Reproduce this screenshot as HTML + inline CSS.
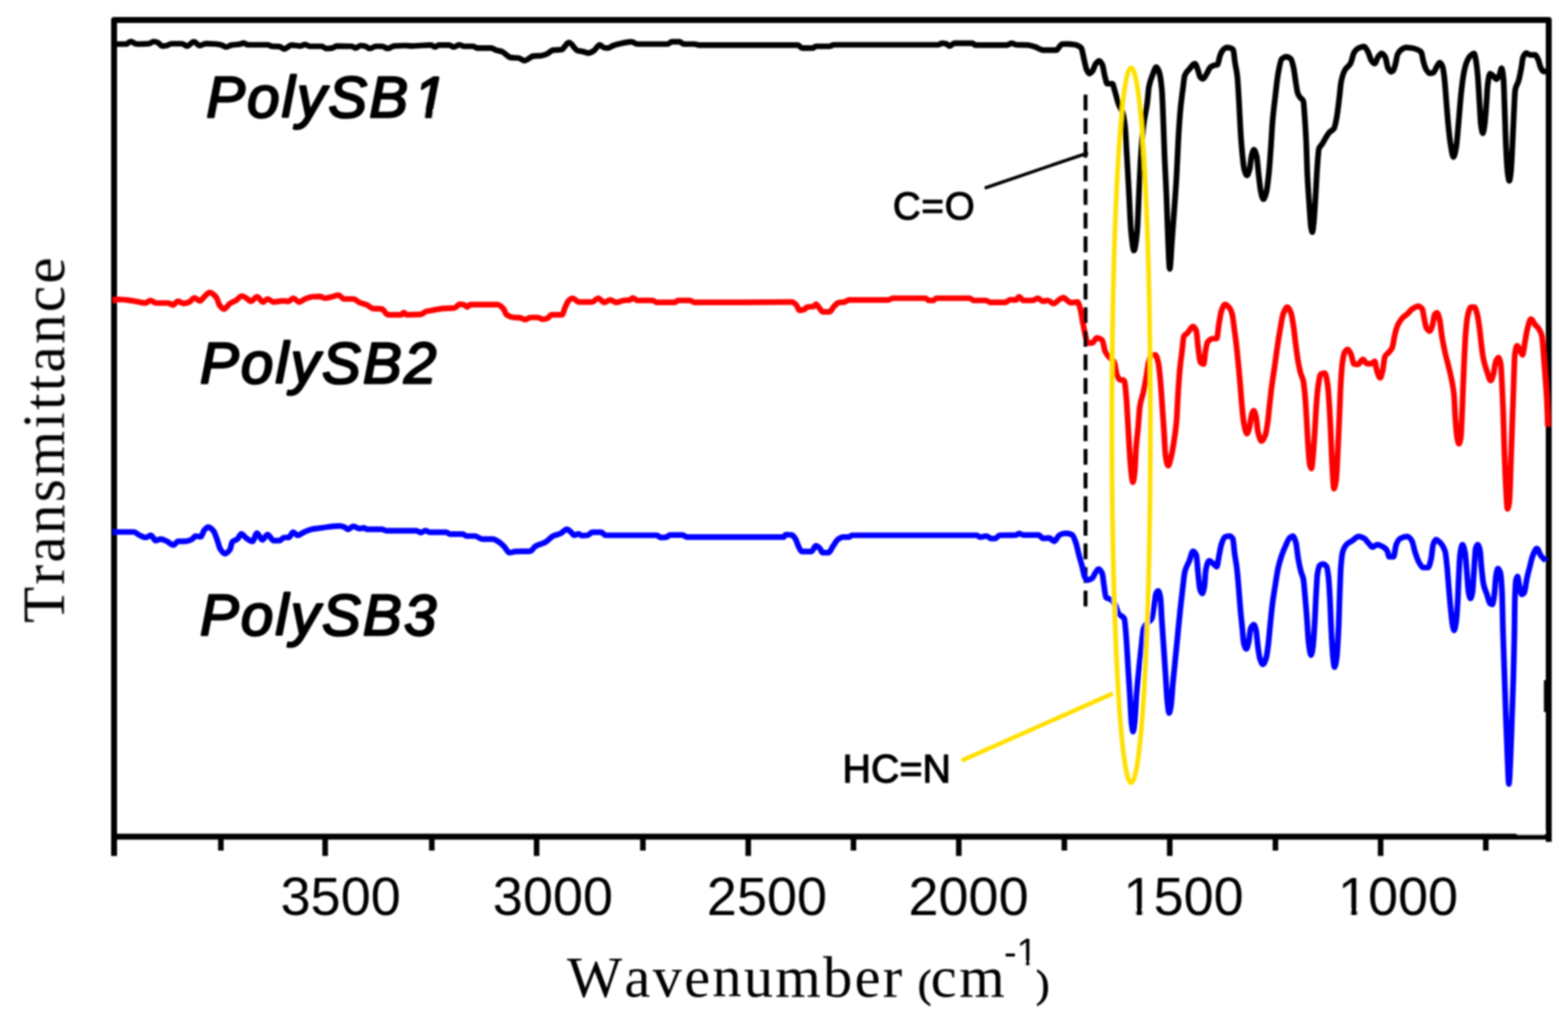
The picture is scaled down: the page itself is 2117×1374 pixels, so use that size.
<!DOCTYPE html>
<html lang="en"><head><meta charset="utf-8"><title>FTIR spectra of PolySB1, PolySB2 and PolySB3</title>
<style>
html,body{margin:0;padding:0;background:#fff;}
body{width:2117px;height:1374px;overflow:hidden;}
svg{display:block;}
.sans{font-family:"Liberation Sans",Arial,Helvetica,sans-serif;}
.serif{font-family:"Liberation Serif","Times New Roman",Times,serif;}
.curve{fill:none;stroke-linejoin:round;stroke-linecap:butt;}
</style></head>
<body>
<svg width="2117" height="1374" viewBox="0 0 2117 1374">
<defs><filter id="soft" x="0" y="0" width="2117" height="1374" filterUnits="userSpaceOnUse"><feGaussianBlur stdDeviation="0.9"/></filter></defs>
<rect x="0" y="0" width="2117" height="1374" fill="#fff"/>
<g filter="url(#soft)">
<g id="frame" fill="none" stroke="#000">
<rect x="154.0" y="26.9" width="1937.0" height="1102.3" stroke-width="8" stroke-linejoin="round"/>
<g stroke-width="7.5"><line x1="439" y1="1129.2" x2="439" y2="1155.3"/><line x1="724.5" y1="1129.2" x2="724.5" y2="1155.3"/><line x1="1010.2" y1="1129.2" x2="1010.2" y2="1155.3"/><line x1="1294.5" y1="1129.2" x2="1294.5" y2="1155.3"/><line x1="1579.3" y1="1129.2" x2="1579.3" y2="1155.3"/><line x1="1864" y1="1129.2" x2="1864" y2="1155.3"/><line x1="298.2" y1="1129.2" x2="298.2" y2="1148"/><line x1="583" y1="1129.2" x2="583" y2="1148"/><line x1="868" y1="1129.2" x2="868" y2="1148"/><line x1="1152.3" y1="1129.2" x2="1152.3" y2="1148"/><line x1="1437" y1="1129.2" x2="1437" y2="1148"/><line x1="1722" y1="1129.2" x2="1722" y2="1148"/><line x1="2006" y1="1129.2" x2="2006" y2="1148"/><line x1="154.0" y1="1129.2" x2="154.0" y2="1155.3" stroke-width="8"/></g>
<rect x="2084.5" y="918" width="5" height="43" fill="#000" stroke="none"/>
<line x1="2091" y1="1129.2" x2="2091" y2="1136.3" stroke-width="8"/>
<rect x="2048.5" y="1122" width="37" height="4.4" fill="#fff" stroke="none"/>
</g>
<g id="curves">
<path class="curve" d="M153.0,59.5C158.8,59.5 164.5,59.5 170.3,59.5C172.3,59.5 174.4,56.0 176.4,56.0C179.1,56.0 181.8,59.5 184.5,59.5C189.9,59.5 195.4,59.4 200.8,59.0C203.2,58.8 205.5,56.0 207.9,56.0C209.6,56.0 211.3,56.8 213.0,57.5C215.0,58.3 217.0,62.1 219.0,62.1C221.0,62.1 223.0,61.8 225.0,61.5C227.1,61.2 229.2,59.0 231.3,59.0C236.0,59.0 240.8,59.0 245.5,59.0C247.9,59.0 250.2,62.1 252.6,62.1C255.6,62.1 258.7,56.4 261.7,56.4C264.4,56.4 267.1,61.5 269.8,61.5C272.5,61.5 275.3,58.8 278.0,58.8C282.7,58.8 287.5,59.1 292.2,59.5C294.2,59.7 296.3,60.0 298.3,60.5C300.7,61.1 303.0,63.5 305.4,63.5C307.8,63.5 310.1,61.3 312.5,60.9C316.6,60.2 320.6,60.3 324.7,59.5C326.1,59.2 327.4,58.0 328.8,58.0C330.8,58.0 332.8,60.5 334.8,60.5C343.6,60.5 352.5,60.5 361.3,60.5C363.3,60.5 365.3,62.3 367.3,62.5C370.7,62.8 374.1,62.6 377.5,62.9C379.5,63.1 381.6,66.2 383.6,66.2C387.0,66.2 390.3,60.9 393.7,60.9C397.8,60.9 401.8,62.1 405.9,62.1C407.9,62.1 410.0,60.0 412.0,60.0C414.0,60.0 416.1,62.5 418.1,62.5C423.5,62.5 429.0,62.5 434.4,62.5C436.4,62.5 438.5,65.5 440.5,65.5C443.2,65.5 445.9,65.3 448.6,64.9C450.6,64.6 452.7,62.1 454.7,62.1C461.5,62.1 468.2,62.2 475.0,62.5C476.7,62.6 478.4,64.9 480.1,64.9C482.5,64.9 484.8,61.5 487.2,61.5C489.2,61.5 491.3,62.0 493.3,62.5C495.3,63.0 497.4,65.5 499.4,65.5C502.1,65.5 504.8,62.5 507.5,62.5C510.2,62.5 512.9,62.5 515.6,62.5C518.3,62.5 521.1,65.5 523.8,65.5C526.5,65.5 529.2,62.3 531.9,62.1C537.3,61.7 542.7,61.5 548.1,61.5C550.8,61.5 553.6,62.1 556.3,62.1C559.7,62.1 563.0,61.7 566.4,61.5C570.9,61.3 575.5,60.9 580.0,60.9C580.7,60.9 581.5,60.9 582.2,60.9C583.9,60.9 585.6,63.5 587.3,63.5C589.0,63.5 590.6,60.9 592.3,60.9C597.1,60.9 601.8,60.9 606.6,60.9C608.6,60.9 610.7,63.5 612.7,63.5C615.1,63.5 617.4,60.5 619.8,60.5C622.2,60.5 624.5,62.5 626.9,62.5C630.9,62.5 635.0,62.5 639.0,62.5C640.7,62.5 642.4,64.9 644.1,64.9C650.5,64.9 657.0,64.9 663.4,64.9C665.4,64.9 667.5,67.0 669.5,67.6C672.2,68.5 675.0,68.7 677.7,69.6C681.7,71.0 685.8,77.3 689.8,77.7C693.2,78.1 696.6,77.9 700.0,78.3C702.7,78.6 705.4,81.8 708.1,81.8C712.2,81.8 716.2,76.1 720.3,75.7C723.7,75.4 727.1,75.4 730.5,75.1C733.2,74.8 735.9,73.8 738.6,72.7C741.3,71.6 744.0,67.9 746.7,67.6C750.4,67.2 754.2,67.4 757.9,67.0C761.3,66.7 764.6,57.4 768.0,57.4C772.1,57.4 776.1,67.7 780.2,68.6C782.6,69.1 784.9,69.2 787.3,69.6C789.7,70.0 792.1,71.6 794.5,71.6C796.9,71.6 799.2,70.0 801.6,68.6C804.3,67.0 807.0,60.5 809.7,60.5C811.7,60.5 813.8,64.2 815.8,64.5C817.5,64.7 819.2,64.9 820.9,64.9C823.3,64.9 825.6,62.3 828.0,61.5C831.4,60.3 834.7,59.5 838.1,58.8C842.8,57.8 847.6,56.4 852.3,56.4C855.0,56.4 857.8,59.5 860.5,59.5C874.0,59.5 887.6,59.5 901.1,59.5C903.1,59.5 905.2,56.4 907.2,56.4C910.6,56.4 913.9,56.4 917.3,56.4C919.3,56.4 921.4,59.5 923.4,59.5C928.2,59.5 932.9,59.5 937.7,59.5C939.7,59.5 941.7,60.9 943.7,60.9C962.5,60.9 981.2,60.9 1000.0,60.9C1025.7,60.9 1051.5,60.9 1077.2,60.9C1079.2,60.9 1081.3,64.9 1083.3,64.9C1088.0,64.9 1092.8,64.9 1097.5,64.9C1098.9,64.9 1100.2,62.5 1101.6,62.5C1107.7,62.5 1113.7,62.5 1119.8,62.5C1121.8,62.5 1123.9,60.5 1125.9,60.5C1172.6,60.5 1219.4,60.5 1266.1,60.5C1268.1,60.5 1270.2,58.4 1272.2,58.4C1273.9,58.4 1275.6,58.7 1277.3,59.0C1279.0,59.3 1280.6,62.1 1282.3,62.1C1284.3,62.1 1286.4,58.4 1288.4,58.4C1296.5,58.4 1304.7,58.4 1312.8,58.4C1314.2,58.4 1315.5,60.9 1316.9,60.9C1331.1,60.9 1345.3,60.9 1359.5,60.9C1361.5,60.9 1363.6,58.4 1365.6,58.4C1368.0,58.4 1370.3,60.4 1372.7,60.5C1377.8,60.8 1382.9,60.6 1388.0,60.9C1391.4,61.1 1394.7,62.4 1398.1,63.5C1401.5,64.6 1404.9,67.6 1408.3,67.6C1414.4,67.6 1420.5,67.6 1426.6,67.6C1427.7,67.6 1428.9,64.7 1430.0,63.5C1431.3,62.0 1432.7,59.6 1434.0,59.5C1436.0,59.4 1438.0,59.3 1440.0,59.3C1443.7,59.3 1447.4,59.7 1451.1,60.3C1454.0,60.8 1456.9,61.8 1459.8,64.7C1461.0,65.9 1462.3,74.7 1463.5,79.6C1464.7,84.5 1466.0,91.9 1467.2,94.4C1468.4,96.9 1469.7,99.4 1470.9,99.4C1472.1,99.4 1473.4,97.8 1474.6,96.4C1476.3,94.5 1477.9,87.8 1479.6,85.8C1481.1,84.0 1482.5,82.0 1484.0,82.0C1485.4,82.0 1486.8,84.3 1488.2,87.0C1489.5,89.4 1490.7,99.8 1492.0,104.3C1493.0,107.8 1493.9,113.0 1494.9,113.0C1497.2,113.0 1499.6,113.0 1501.9,113.0C1502.9,113.0 1503.8,118.5 1504.8,121.6C1506.7,127.6 1508.6,136.6 1510.5,141.4C1512.2,145.6 1513.8,146.3 1515.5,151.3C1516.6,154.5 1517.6,160.1 1518.7,168.7C1519.7,176.5 1520.6,197.2 1521.6,213.2C1522.4,227.0 1523.3,242.7 1524.1,257.7C1525.1,275.7 1526.1,302.2 1527.1,312.2C1528.4,325.1 1529.7,338.2 1531.0,338.2C1532.4,338.2 1533.9,326.3 1535.3,312.2C1536.1,304.3 1536.9,278.9 1537.7,262.7C1538.5,245.9 1539.4,225.9 1540.2,213.2C1541.4,194.4 1542.7,178.7 1543.9,168.7C1545.6,155.2 1547.2,151.4 1548.9,139.0C1549.7,133.0 1550.5,120.8 1551.3,116.7C1553.0,108.2 1554.6,104.7 1556.3,100.6C1557.9,96.5 1559.6,90.7 1561.2,90.7C1562.4,90.7 1563.7,93.6 1564.9,96.9C1566.2,100.3 1567.4,108.0 1568.7,121.6C1569.3,128.4 1570.0,148.1 1570.6,163.7C1571.2,178.4 1571.8,199.0 1572.4,213.2C1573.2,232.2 1574.0,243.7 1574.8,262.7C1575.4,276.9 1576.0,298.6 1576.6,312.2C1577.5,332.6 1578.4,363.0 1579.3,363.0C1580.3,363.0 1581.3,337.6 1582.3,324.5C1583.5,308.4 1584.8,292.4 1586.0,275.0C1586.8,263.2 1587.7,252.3 1588.5,237.9C1589.3,224.1 1590.1,202.3 1590.9,188.5C1591.7,174.1 1592.6,160.6 1593.4,151.3C1594.6,137.5 1595.9,128.6 1597.1,119.2C1597.9,112.8 1598.8,104.0 1599.6,101.9C1601.7,96.6 1603.7,95.6 1605.8,93.2C1608.3,90.3 1610.7,85.8 1613.2,85.8C1614.4,85.8 1615.7,90.2 1616.9,93.2C1618.1,96.2 1619.4,103.2 1620.6,104.3C1621.8,105.4 1623.1,106.3 1624.3,106.3C1626.0,106.3 1627.6,102.0 1629.3,99.4C1630.9,96.9 1632.6,92.0 1634.2,90.7C1635.9,89.4 1637.5,88.7 1639.2,88.2C1640.8,87.7 1642.5,87.8 1644.1,87.0C1644.9,86.6 1645.8,79.6 1646.6,77.1C1647.8,73.4 1649.1,69.9 1650.3,68.5C1652.4,66.2 1654.4,64.2 1656.5,64.2C1658.1,64.2 1659.6,64.4 1661.2,64.7C1662.5,64.9 1663.7,65.6 1665.0,67.2C1665.8,68.2 1666.6,79.3 1667.4,84.5C1668.4,91.0 1669.4,93.4 1670.4,101.9C1671.2,108.9 1672.1,124.9 1672.9,139.0C1673.5,149.7 1674.2,166.2 1674.8,176.1C1675.6,189.1 1676.5,200.0 1677.3,208.2C1678.1,216.4 1679.0,224.9 1679.8,228.0C1681.0,232.6 1682.3,236.7 1683.5,236.7C1684.7,236.7 1686.0,232.5 1687.2,228.0C1688.0,225.0 1688.9,214.0 1689.7,210.7C1690.8,206.5 1691.8,202.0 1692.9,202.0C1694.1,202.0 1695.4,206.0 1696.6,210.7C1697.6,214.5 1698.6,229.5 1699.6,237.9C1700.4,244.9 1701.3,253.9 1702.1,257.7C1703.3,263.3 1704.6,268.9 1705.8,268.9C1707.0,268.9 1708.3,264.6 1709.5,260.2C1710.7,255.8 1712.0,244.8 1713.2,233.0C1714.0,225.1 1714.9,212.5 1715.7,200.8C1716.5,189.6 1717.3,173.1 1718.1,163.7C1719.4,148.9 1720.6,139.8 1721.9,129.0C1723.1,118.5 1724.4,106.1 1725.6,99.4C1727.2,90.5 1728.9,81.1 1730.5,79.6C1732.6,77.8 1734.6,76.6 1736.7,76.6C1738.8,76.6 1740.8,77.7 1742.9,79.6C1744.1,80.7 1745.4,86.5 1746.6,92.0C1747.6,96.5 1748.6,105.7 1749.6,111.8C1750.4,116.7 1751.2,123.1 1752.0,125.4C1753.1,128.6 1754.2,129.9 1755.3,131.5C1756.8,133.6 1758.2,133.0 1759.7,136.5C1760.3,137.8 1760.8,148.7 1761.4,156.3C1762.1,165.3 1762.7,174.9 1763.4,188.5C1764.0,200.7 1764.6,225.9 1765.2,237.9C1766.0,253.9 1766.8,263.8 1767.6,275.0C1768.4,286.7 1769.3,302.6 1770.1,307.2C1770.7,310.3 1771.2,313.4 1771.8,313.4C1772.5,313.4 1773.1,305.9 1773.8,299.8C1774.6,292.1 1775.5,276.1 1776.3,262.7C1777.0,252.0 1777.6,237.2 1778.3,228.0C1779.1,217.0 1779.9,203.0 1780.7,200.8C1782.1,196.9 1783.5,196.8 1784.9,194.6C1786.6,192.0 1788.2,188.7 1789.9,186.0C1791.5,183.4 1793.2,180.3 1794.8,178.6C1796.9,176.4 1798.9,176.5 1801.0,173.6C1802.2,171.8 1803.5,165.3 1804.7,158.8C1805.8,153.0 1806.9,142.8 1808.0,134.0C1809.0,126.3 1809.9,113.8 1810.9,109.3C1812.6,101.6 1814.2,97.3 1815.9,94.4C1818.4,90.2 1820.8,90.1 1823.3,85.8C1824.9,83.0 1826.6,73.4 1828.2,70.9C1830.3,67.7 1832.3,65.6 1834.4,64.7C1836.9,63.7 1839.4,62.8 1841.9,62.8C1843.5,62.8 1845.2,66.8 1846.8,69.7C1848.5,72.7 1850.1,80.0 1851.8,82.1C1853.2,83.9 1854.6,85.8 1856.0,85.8C1857.5,85.8 1858.9,79.0 1860.4,77.1C1862.1,74.9 1863.7,72.2 1865.4,72.2C1867.0,72.2 1868.7,74.4 1870.3,77.1C1871.5,79.1 1872.8,89.7 1874.0,92.0C1875.4,94.6 1876.8,96.9 1878.2,96.9C1879.0,96.9 1879.9,96.4 1880.7,95.7C1881.8,94.9 1882.8,90.6 1883.9,87.0C1884.9,83.6 1885.9,75.5 1886.9,73.4C1888.5,70.0 1890.2,68.4 1891.8,67.2C1893.9,65.7 1895.9,64.2 1898.0,64.2C1900.5,64.2 1903.0,64.4 1905.5,64.7C1908.0,65.0 1910.4,65.7 1912.9,66.7C1915.0,67.5 1917.0,68.2 1919.1,70.9C1919.9,72.0 1920.7,79.1 1921.5,82.1C1922.7,86.7 1924.0,91.1 1925.2,93.2C1926.9,96.0 1928.5,98.9 1930.2,98.9C1931.8,98.9 1933.5,98.6 1935.1,98.1C1936.8,97.6 1938.4,92.0 1940.1,89.5C1941.3,87.6 1942.6,84.5 1943.8,84.5C1945.0,84.5 1946.3,86.7 1947.5,89.5C1948.3,91.4 1949.2,97.7 1950.0,104.3C1950.8,110.9 1951.7,123.9 1952.5,134.0C1953.3,143.7 1954.1,155.3 1954.9,163.7C1956.0,175.3 1957.1,186.8 1958.2,193.4C1959.6,201.8 1961.0,212.0 1962.4,212.0C1963.6,212.0 1964.9,205.1 1966.1,198.3C1967.1,192.9 1968.0,179.3 1969.0,168.7C1969.8,159.5 1970.7,148.0 1971.5,139.0C1972.3,130.0 1973.2,120.6 1974.0,114.2C1975.1,106.0 1976.1,99.0 1977.2,94.4C1978.4,89.0 1979.7,84.7 1980.9,82.1C1982.6,78.6 1984.2,75.9 1985.9,74.6C1987.4,73.4 1988.8,72.2 1990.3,72.2C1991.1,72.2 1992.0,77.5 1992.8,82.1C1993.6,86.7 1994.5,94.8 1995.3,104.3C1996.0,112.7 1996.8,127.8 1997.5,139.0C1998.2,149.2 1998.8,164.0 1999.5,168.7C2000.3,174.5 2001.2,179.8 2002.0,179.8C2002.8,179.8 2003.6,174.0 2004.4,168.7C2005.2,163.2 2006.1,150.0 2006.9,139.0C2007.5,131.5 2008.0,118.4 2008.6,114.2C2009.7,106.3 2010.7,99.4 2011.8,99.4C2013.1,99.4 2014.3,100.9 2015.6,101.9C2017.2,103.2 2018.9,106.8 2020.5,106.8C2021.7,106.8 2023.0,104.2 2024.2,101.9C2025.3,99.9 2026.3,92.0 2027.4,92.0C2028.2,92.0 2029.1,98.4 2029.9,106.8C2030.5,112.5 2031.0,136.1 2031.6,151.3C2032.2,167.4 2032.8,189.3 2033.4,200.8C2034.2,216.2 2035.0,230.3 2035.8,235.5C2036.5,239.8 2037.1,244.1 2037.8,244.1C2038.5,244.1 2039.1,238.5 2039.8,233.0C2040.6,226.1 2041.5,205.0 2042.3,188.5C2042.9,177.3 2043.4,162.3 2044.0,151.3C2044.6,140.3 2045.1,124.6 2045.7,121.6C2047.2,113.6 2048.7,114.5 2050.2,109.3C2051.4,105.0 2052.7,98.5 2053.9,92.0C2054.7,87.6 2055.6,79.0 2056.4,77.1C2057.8,74.0 2059.2,71.7 2060.6,71.7C2062.5,71.7 2064.4,74.1 2066.3,74.1C2068.4,74.1 2070.4,74.1 2072.5,74.1C2074.0,74.1 2075.4,77.7 2076.9,80.8C2077.9,82.9 2078.9,88.6 2079.9,90.7C2081.1,93.3 2082.4,96.4 2083.6,96.4C2085.1,96.4 2086.5,96.4 2088.0,96.4" stroke="#000" stroke-width="7.7"/>
<path class="curve" d="M152.6,405.7C155.1,405.2 157.7,404.1 160.2,404.1C167.0,404.1 173.7,405.3 180.5,406.2C185.9,406.9 191.3,409.0 196.7,409.0C198.7,409.0 200.8,405.5 202.8,405.5C205.5,405.5 208.2,409.0 210.9,409.0C216.3,409.0 221.8,409.0 227.2,409.0C229.2,409.0 231.3,411.6 233.3,411.6C235.7,411.6 238.0,406.6 240.4,406.6C242.8,406.6 245.1,409.6 247.5,409.6C250.2,409.6 252.9,408.6 255.6,407.6C258.0,406.7 260.3,402.1 262.7,402.1C265.1,402.1 267.4,406.2 269.8,406.2C271.8,406.2 273.9,402.3 275.9,400.5C278.3,398.5 280.6,394.8 283.0,394.8C286.1,394.8 289.1,397.8 292.2,401.5C293.6,403.2 294.9,409.7 296.3,411.6C298.3,414.4 300.3,417.1 302.3,417.1C305.0,417.1 307.8,411.4 310.5,409.6C313.2,407.8 315.9,407.1 318.6,405.5C321.3,403.9 324.0,399.5 326.7,399.5C328.7,399.5 330.8,401.3 332.8,402.5C334.8,403.7 336.9,406.6 338.9,406.6C341.6,406.6 344.3,400.5 347.0,400.5C349.7,400.5 352.5,407.6 355.2,407.6C357.2,407.6 359.3,403.5 361.3,403.5C364.0,403.5 366.7,407.6 369.4,407.6C373.5,407.6 377.5,406.2 381.6,406.2C384.3,406.2 387.0,406.6 389.7,406.6C391.7,406.6 393.8,402.5 395.8,402.5C398.5,402.5 401.2,407.6 403.9,407.6C406.6,407.6 409.3,404.5 412.0,403.5C415.4,402.2 418.8,400.7 422.2,400.5C425.6,400.3 428.9,400.1 432.3,400.1C434.3,400.1 436.4,402.5 438.4,402.5C441.1,402.5 443.9,401.5 446.6,400.9C450.0,400.2 453.3,398.4 456.7,398.4C459.4,398.4 462.1,403.5 464.8,403.5C468.9,403.5 472.9,403.5 477.0,403.5C479.7,403.5 482.5,407.0 485.2,408.2C488.6,409.6 491.9,410.2 495.3,411.6C498.0,412.8 500.7,416.0 503.4,416.3C507.5,416.8 511.5,416.6 515.6,417.1C518.3,417.5 521.1,424.8 523.8,424.8C529.9,424.8 535.9,424.8 542.0,424.8C543.0,424.8 544.1,421.8 545.1,421.8C546.4,421.8 547.8,424.8 549.1,424.8C555.5,424.8 562.0,424.7 568.4,424.4C570.6,424.3 572.9,421.0 575.1,420.4C578.1,419.6 581.2,419.3 584.2,418.8C588.9,418.0 593.7,416.6 598.4,416.3C603.5,416.0 608.6,416.1 613.7,415.7C616.1,415.5 618.4,410.6 620.8,410.6C622.8,410.6 624.9,411.0 626.9,411.6C628.2,412.0 629.6,414.3 630.9,414.3C632.3,414.3 633.6,411.2 635.0,411.2C647.2,411.2 659.4,411.2 671.6,411.2C674.3,411.2 677.0,413.8 679.7,416.7C681.1,418.2 682.4,423.9 683.8,424.8C687.2,427.1 690.5,428.2 693.9,428.5C696.6,428.7 699.3,428.7 702.0,428.9C704.4,429.1 706.7,431.3 709.1,431.3C711.5,431.3 713.9,428.5 716.3,428.5C719.7,428.5 723.0,428.5 726.4,428.5C728.4,428.5 730.5,430.9 732.5,430.9C734.5,430.9 736.6,430.5 738.6,429.9C740.6,429.3 742.7,424.8 744.7,424.8C749.4,424.8 754.2,424.8 758.9,424.8C760.3,424.8 761.6,417.6 763.0,414.7C764.7,411.2 766.3,407.0 768.0,405.5C769.7,404.0 771.4,402.5 773.1,402.5C775.8,402.5 778.6,407.6 781.3,407.6C787.4,407.6 793.4,407.6 799.5,407.6C802.2,407.6 805.0,402.5 807.7,402.5C810.4,402.5 813.1,408.2 815.8,408.2C818.5,408.2 821.2,404.9 823.9,404.9C826.6,404.9 829.3,408.2 832.0,408.2C835.4,408.2 838.8,405.9 842.2,405.5C844.9,405.2 847.6,405.3 850.3,404.9C851.7,404.7 853.0,402.1 854.4,402.1C856.4,402.1 858.5,405.5 860.5,405.5C867.3,405.5 874.0,405.5 880.8,405.5C882.8,405.5 884.9,408.2 886.9,408.2C895.0,408.2 903.2,408.2 911.3,408.2C912.6,408.2 914.0,405.5 915.3,405.5C920.7,405.5 926.2,405.5 931.6,405.5C933.6,405.5 935.7,408.2 937.7,408.2C958.5,408.2 979.2,408.2 1000.0,408.2C1023.0,408.2 1046.1,407.6 1069.1,407.6C1071.1,407.6 1073.2,409.6 1075.2,411.6C1076.5,412.9 1077.9,418.8 1079.2,418.8C1081.2,418.8 1083.3,418.3 1085.3,417.7C1087.0,417.2 1088.7,414.5 1090.4,414.3C1093.1,413.9 1095.8,414.1 1098.5,413.7C1099.5,413.5 1100.6,410.6 1101.6,410.6C1102.9,410.6 1104.3,413.2 1105.6,414.7C1107.3,416.6 1109.0,420.8 1110.7,420.8C1113.7,420.8 1116.8,420.8 1119.8,420.8C1121.8,420.8 1123.9,415.7 1125.9,413.7C1127.9,411.7 1130.0,409.0 1132.0,408.6C1134.7,408.0 1137.5,408.1 1140.2,407.6C1142.2,407.2 1144.3,404.9 1146.3,404.9C1163.9,404.9 1181.5,404.9 1199.1,404.9C1201.1,404.9 1203.2,402.5 1205.2,402.5C1220.1,402.5 1234.9,402.5 1249.8,402.5C1251.2,402.5 1252.5,405.5 1253.9,405.5C1255.9,405.5 1258.0,405.5 1260.0,405.5C1261.4,405.5 1262.7,402.5 1264.1,402.5C1279.0,402.5 1293.9,402.5 1308.8,402.5C1310.8,402.5 1312.8,405.5 1314.8,405.5C1320.2,405.5 1325.7,405.5 1331.1,405.5C1333.1,405.5 1335.2,408.2 1337.2,408.2C1344.0,408.2 1350.7,408.2 1357.5,408.2C1359.5,408.2 1361.6,404.5 1363.6,404.5C1366.3,404.5 1369.0,404.9 1371.7,404.9C1373.1,404.9 1374.4,400.5 1375.8,400.5C1377.8,400.5 1379.9,405.5 1381.9,405.5C1386.0,405.5 1390.0,405.5 1394.1,405.5C1396.5,405.5 1398.8,402.5 1401.2,402.5C1403.6,402.5 1405.9,406.6 1408.3,406.6C1410.3,406.6 1412.4,405.5 1414.4,405.5C1417.1,405.5 1419.8,409.6 1422.5,409.6C1425.0,409.6 1427.5,406.0 1430.0,404.5C1431.9,403.4 1433.7,401.6 1435.6,401.6C1437.1,401.6 1438.5,403.7 1440.0,404.7C1442.1,406.1 1444.1,408.5 1446.2,408.5C1449.1,408.5 1451.9,407.7 1454.8,407.7C1456.1,407.7 1457.3,412.8 1458.6,417.1C1459.7,420.8 1460.7,428.8 1461.8,434.4C1462.8,439.5 1463.7,445.2 1464.7,449.3C1466.0,454.7 1467.2,462.9 1468.5,462.9C1470.5,462.9 1472.6,462.9 1474.6,462.9C1476.7,462.9 1478.7,456.2 1480.8,456.2C1483.3,456.2 1485.7,457.2 1488.2,459.2C1489.5,460.2 1490.7,471.2 1492.0,474.0C1493.6,477.6 1495.3,479.4 1496.9,481.4C1499.4,484.4 1501.8,484.5 1504.3,488.9C1505.5,491.1 1506.8,503.2 1508.0,506.2C1509.3,509.3 1510.5,511.9 1511.8,512.4C1513.8,513.2 1515.9,512.7 1517.9,513.6C1518.7,514.0 1519.6,524.6 1520.4,533.4C1521.2,542.2 1522.1,559.4 1522.9,573.0C1523.7,586.6 1524.6,603.7 1525.4,615.0C1526.2,625.8 1527.0,637.0 1527.8,642.3C1528.4,646.3 1529.0,650.9 1529.6,650.9C1530.4,650.9 1531.2,644.2 1532.0,637.3C1532.7,631.5 1533.3,611.2 1534.0,602.7C1534.8,592.1 1535.7,586.9 1536.5,577.9C1537.3,568.9 1538.2,553.5 1539.0,548.2C1540.6,537.8 1542.3,536.0 1543.9,528.5C1545.1,522.8 1546.4,515.8 1547.6,508.7C1548.7,502.6 1549.7,492.6 1550.8,488.9C1552.2,484.0 1553.7,479.0 1555.1,479.0C1556.7,479.0 1558.4,479.0 1560.0,479.0C1561.2,479.0 1562.5,483.8 1563.7,488.9C1564.7,493.0 1565.7,503.2 1566.7,513.6C1567.5,522.3 1568.4,536.4 1569.2,548.2C1570.0,559.5 1570.8,570.7 1571.6,582.9C1572.3,593.1 1572.9,610.7 1573.6,615.0C1574.8,622.9 1576.1,628.7 1577.3,628.7C1578.5,628.7 1579.8,622.3 1581.0,617.5C1582.2,612.7 1583.5,605.5 1584.7,597.7C1586.0,589.7 1587.2,582.5 1588.5,568.0C1589.1,560.8 1589.8,543.4 1590.4,533.4C1591.2,520.2 1592.1,507.5 1592.9,498.8C1593.9,488.4 1594.9,482.3 1595.9,474.0C1596.7,467.4 1597.5,455.7 1598.3,454.2C1600.0,451.0 1601.6,451.1 1603.3,449.3C1605.8,446.7 1608.2,440.6 1610.7,440.6C1612.2,440.6 1613.7,442.9 1615.2,446.8C1616.0,448.9 1616.8,462.9 1617.6,469.1C1618.6,476.9 1619.6,487.9 1620.6,488.9C1622.1,490.5 1623.6,491.3 1625.1,491.3C1625.9,491.3 1626.7,478.2 1627.5,474.0C1628.5,468.7 1629.5,462.9 1630.5,461.6C1632.6,458.9 1634.6,457.5 1636.7,457.2C1638.8,456.9 1640.8,457.1 1642.9,456.7C1643.7,456.5 1644.6,444.5 1645.4,439.4C1646.6,431.9 1647.9,423.0 1649.1,419.6C1650.7,415.1 1652.4,410.9 1654.0,410.9C1656.1,410.9 1658.1,413.3 1660.2,415.9C1661.4,417.4 1662.5,420.1 1663.7,424.5C1664.5,427.6 1665.4,435.8 1666.2,441.9C1667.3,449.7 1668.3,457.3 1669.4,466.6C1670.2,473.9 1671.1,482.7 1671.9,491.3C1672.7,499.9 1673.6,508.9 1674.4,518.6C1675.2,527.9 1676.0,539.9 1676.8,548.2C1677.6,556.8 1678.5,566.1 1679.3,570.5C1680.7,577.9 1682.1,585.4 1683.5,585.4C1684.7,585.4 1686.0,580.2 1687.2,575.5C1688.0,572.3 1688.9,563.2 1689.7,560.6C1690.7,557.5 1691.7,554.4 1692.7,554.4C1693.8,554.4 1694.8,558.7 1695.9,563.1C1696.7,566.5 1697.6,579.5 1698.4,582.9C1700.0,589.5 1701.7,595.3 1703.3,595.3C1704.9,595.3 1706.6,591.8 1708.2,587.8C1709.3,585.1 1710.4,578.0 1711.5,570.5C1712.3,565.1 1713.1,555.3 1713.9,548.2C1715.1,537.8 1716.2,527.4 1717.4,518.6C1718.7,508.5 1720.1,500.7 1721.4,491.3C1722.5,483.3 1723.7,474.2 1724.8,466.6C1726.1,457.7 1727.5,449.3 1728.8,441.9C1729.9,435.6 1731.1,427.6 1732.2,424.5C1734.1,419.4 1736.0,414.6 1737.9,414.6C1739.6,414.6 1741.2,418.1 1742.9,422.1C1744.1,425.1 1745.4,433.8 1746.6,441.9C1747.6,448.4 1748.6,459.0 1749.6,466.6C1750.7,474.7 1751.7,483.0 1752.8,488.9C1753.9,494.8 1754.9,499.9 1756.0,503.7C1757.2,507.8 1758.3,508.5 1759.5,513.6C1760.3,517.1 1761.1,524.8 1761.9,533.4C1762.6,540.5 1763.2,552.4 1763.9,563.1C1764.6,573.8 1765.2,588.2 1765.9,597.7C1766.7,609.5 1767.6,624.3 1768.4,627.4C1769.1,630.2 1769.9,632.4 1770.6,632.4C1771.3,632.4 1771.9,623.9 1772.6,617.5C1773.4,609.5 1774.3,595.5 1775.1,582.9C1775.9,570.9 1776.7,553.2 1777.5,543.3C1778.3,533.0 1779.2,523.6 1780.0,518.6C1781.1,512.2 1782.1,505.5 1783.2,505.0C1785.0,504.1 1786.9,503.7 1788.7,503.7C1789.9,503.7 1791.2,510.8 1792.4,518.6C1793.2,523.6 1794.0,536.0 1794.8,548.2C1795.4,557.3 1796.0,570.5 1796.6,582.9C1797.3,596.7 1797.9,616.2 1798.6,627.4C1799.4,640.9 1800.2,659.6 1801.0,659.6C1802.0,659.6 1803.0,654.0 1804.0,647.2C1804.8,641.5 1805.7,619.3 1806.5,602.7C1807.2,589.4 1807.8,573.8 1808.5,558.1C1809.0,547.1 1809.4,532.0 1809.9,523.5C1810.7,509.5 1811.4,497.1 1812.2,491.3C1813.3,483.2 1814.3,477.0 1815.4,475.3C1816.8,473.1 1818.2,471.5 1819.6,471.5C1821.0,471.5 1822.4,474.9 1823.8,477.7C1825.3,480.6 1826.7,491.0 1828.2,491.3C1829.9,491.6 1831.5,491.8 1833.2,491.8C1835.5,491.8 1837.8,485.2 1840.1,485.2C1841.9,485.2 1843.8,490.8 1845.6,490.8C1847.7,490.8 1849.7,490.8 1851.8,490.8C1853.2,490.8 1854.6,487.6 1856.0,487.6C1857.1,487.6 1858.1,498.2 1859.2,501.2C1860.6,505.2 1862.0,509.9 1863.4,509.9C1864.5,509.9 1865.5,505.2 1866.6,501.2C1867.7,497.2 1868.7,483.5 1869.8,481.4C1871.6,477.7 1873.5,477.6 1875.3,475.3C1876.8,473.5 1878.2,472.4 1879.7,469.1C1880.9,466.5 1882.0,456.5 1883.2,451.8C1884.4,446.9 1885.7,442.1 1886.9,439.4C1889.0,434.8 1891.0,431.8 1893.1,429.5C1895.6,426.8 1898.0,425.6 1900.5,423.3C1902.6,421.4 1904.6,418.4 1906.7,417.1C1909.3,415.4 1912.0,413.4 1914.6,413.4C1916.5,413.4 1918.4,414.7 1920.3,417.1C1921.1,418.2 1922.0,425.7 1922.8,429.5C1923.9,434.4 1924.9,441.5 1926.0,443.1C1927.4,445.2 1928.8,446.8 1930.2,446.8C1931.4,446.8 1932.7,443.0 1933.9,439.4C1934.9,436.5 1935.9,425.8 1936.9,424.5C1938.0,423.1 1939.0,422.1 1940.1,422.1C1941.3,422.1 1942.6,427.1 1943.8,432.0C1944.8,436.0 1945.8,448.1 1946.8,454.2C1948.3,463.1 1949.7,470.0 1951.2,476.5C1952.9,483.9 1954.5,489.3 1956.2,496.3C1957.7,502.5 1959.1,507.9 1960.6,516.1C1961.4,520.7 1962.3,524.9 1963.1,533.4C1963.7,539.2 1964.2,555.4 1964.8,563.1C1965.6,574.4 1966.5,585.9 1967.3,590.3C1968.1,594.7 1969.0,599.0 1969.8,599.0C1970.6,599.0 1971.5,595.4 1972.3,590.3C1972.9,586.8 1973.4,570.6 1974.0,558.1C1974.5,547.0 1975.0,531.0 1975.5,518.6C1976.1,504.6 1976.6,490.3 1977.2,479.0C1977.8,467.7 1978.3,456.1 1978.9,449.3C1979.7,439.3 1980.6,430.7 1981.4,427.0C1982.9,420.3 1984.4,414.6 1985.9,414.6C1987.5,414.6 1989.2,414.6 1990.8,414.6C1992.0,414.6 1993.3,419.8 1994.5,424.5C1995.6,428.5 1996.6,436.4 1997.7,444.3C1998.5,450.4 1999.4,460.2 2000.2,466.6C2001.2,474.2 2002.2,481.9 2003.2,486.4C2004.7,493.1 2006.1,497.0 2007.6,501.2C2009.3,506.0 2010.9,513.6 2012.6,513.6C2013.7,513.6 2014.9,509.7 2016.0,506.2C2017.1,502.8 2018.2,491.7 2019.3,488.9C2020.5,485.7 2021.8,482.7 2023.0,482.7C2024.1,482.7 2025.1,486.0 2026.2,491.3C2026.8,494.1 2027.3,507.8 2027.9,518.6C2028.4,528.1 2028.9,539.6 2029.4,553.2C2029.9,566.8 2030.4,588.5 2030.9,602.7C2031.6,621.7 2032.2,640.0 2032.9,652.2C2033.7,666.9 2034.5,686.8 2035.3,686.8C2036.1,686.8 2037.0,682.7 2037.8,676.9C2038.5,672.2 2039.1,645.3 2039.8,627.4C2040.4,612.2 2040.9,593.9 2041.5,577.9C2042.1,560.9 2042.7,544.5 2043.3,528.5C2043.9,511.6 2044.6,483.8 2045.2,479.0C2046.2,471.5 2047.2,466.6 2048.2,466.6C2049.5,466.6 2050.9,470.6 2052.2,472.8C2053.3,474.7 2054.5,479.0 2055.6,479.0C2056.7,479.0 2057.8,467.5 2058.9,461.6C2060.0,455.9 2061.0,448.3 2062.1,444.3C2063.7,438.2 2065.4,430.7 2067.0,430.7C2068.8,430.7 2070.7,435.8 2072.5,438.1C2074.3,440.3 2076.1,441.4 2077.9,444.3C2079.2,446.4 2080.6,448.4 2081.9,454.2C2082.6,457.4 2083.4,470.0 2084.1,479.0C2084.8,488.0 2085.6,498.4 2086.3,508.7C2087.0,519.0 2087.8,526.6 2088.5,540.8C2088.9,549.2 2089.4,563.9 2089.8,575.5" stroke="#f00" stroke-width="7.7"/>
<line x1="1465.6" y1="127.8" x2="1465.6" y2="819" stroke="#000" stroke-width="5.3" stroke-dasharray="21.3 10.58"/>
<path class="curve" d="M152.6,718.0C161.9,718.0 171.2,718.0 180.5,718.0C183.2,718.0 185.9,721.3 188.6,722.5C191.3,723.7 194.0,725.5 196.7,725.5C199.1,725.5 201.4,722.5 203.8,722.5C205.8,722.5 207.9,729.6 209.9,729.6C212.3,729.6 214.6,727.6 217.0,727.6C219.7,727.6 222.5,729.4 225.2,730.6C228.2,731.9 231.3,735.7 234.3,735.7C236.3,735.7 238.4,730.6 240.4,730.6C243.4,730.6 246.5,730.6 249.5,730.6C252.9,730.6 256.3,729.3 259.7,727.6C261.1,726.9 262.4,723.5 263.8,723.5C266.2,723.5 268.5,724.5 270.9,724.5C272.6,724.5 274.2,717.3 275.9,715.4C277.6,713.5 279.3,711.3 281.0,711.3C283.4,711.3 285.7,713.7 288.1,716.4C289.8,718.3 291.5,724.1 293.2,728.6C294.6,732.2 295.9,738.6 297.3,740.8C299.3,744.1 301.4,747.3 303.4,747.3C305.8,747.3 308.1,745.1 310.5,741.8C311.5,740.4 312.5,732.7 313.5,731.6C315.9,729.1 318.2,729.5 320.6,727.6C322.3,726.2 324.0,720.5 325.7,720.5C328.1,720.5 330.4,725.1 332.8,726.6C335.5,728.3 338.2,730.6 340.9,730.6C342.9,730.6 345.0,719.5 347.0,719.5C349.4,719.5 351.7,728.6 354.1,728.6C356.5,728.6 358.9,721.5 361.3,721.5C364.0,721.5 366.7,729.6 369.4,729.6C372.1,729.6 374.8,729.6 377.5,729.6C379.5,729.6 381.6,725.5 383.6,725.5C385.6,725.5 387.7,725.5 389.7,725.5C391.7,725.5 393.8,718.4 395.8,718.4C397.8,718.4 399.9,722.5 401.9,722.5C404.6,722.5 407.3,719.6 410.0,718.4C413.4,716.9 416.8,715.1 420.2,714.4C424.2,713.6 428.3,713.4 432.3,712.8C435.7,712.3 439.1,711.7 442.5,711.3C447.9,710.7 453.4,709.9 458.8,709.9C460.8,709.9 462.9,710.6 464.9,711.3C466.6,711.9 468.2,714.4 469.9,714.4C472.3,714.4 474.6,710.3 477.0,710.3C479.7,710.3 482.5,713.4 485.2,713.4C487.2,713.4 489.3,712.4 491.3,712.4C492.6,712.4 494.0,714.4 495.3,714.4C502.1,714.4 508.8,714.4 515.6,714.4C517.6,714.4 519.7,716.4 521.7,716.4C535.2,716.4 548.8,716.4 562.3,716.4C564.3,716.4 566.4,718.8 568.4,718.8C570.4,718.8 572.5,716.0 574.5,716.0C576.4,716.0 578.3,718.4 580.2,718.4C587.6,718.4 595.1,718.4 602.5,718.4C604.2,718.4 605.9,720.9 607.6,720.9C613.3,720.9 619.1,720.9 624.8,720.9C626.5,720.9 628.2,723.5 629.9,723.5C633.6,723.5 637.4,723.5 641.1,723.5C644.5,723.5 647.9,727.6 651.3,727.6C656.0,727.6 660.8,727.6 665.5,727.6C668.2,727.6 670.9,729.9 673.6,731.6C676.0,733.1 678.3,735.4 680.7,737.7C683.1,740.0 685.4,745.9 687.8,745.9C690.5,745.9 693.2,744.6 695.9,744.4C702.7,744.0 709.5,744.3 716.3,743.8C718.3,743.7 720.3,739.0 722.3,737.7C727.1,734.7 731.8,734.3 736.6,731.6C740.0,729.7 743.3,725.1 746.7,723.5C750.1,721.9 753.5,721.6 756.9,720.1C759.7,718.8 762.6,714.4 765.4,714.4C767.3,714.4 769.2,716.8 771.1,718.4C772.5,719.5 773.8,722.5 775.2,722.5C777.2,722.5 779.3,720.5 781.3,720.5C782.6,720.5 784.0,722.9 785.3,722.9C788.0,722.9 790.7,722.8 793.4,722.5C795.4,722.3 797.5,718.4 799.5,718.4C803.6,718.4 807.6,718.4 811.7,718.4C813.7,718.4 815.8,722.5 817.8,722.5C840.8,722.5 863.9,722.5 886.9,722.5C888.6,722.5 890.3,725.5 892.0,725.5C894.7,725.5 897.4,725.3 900.1,724.9C901.4,724.7 902.8,722.1 904.1,722.1C909.9,722.1 915.6,722.1 921.4,722.1C923.4,722.1 925.5,724.9 927.5,724.9C951.7,724.9 975.8,724.9 1000.0,724.9C1019.3,724.9 1038.6,724.9 1057.9,724.9C1058.9,724.9 1059.9,721.5 1060.9,721.5C1063.6,721.5 1066.4,721.7 1069.1,722.1C1070.8,722.3 1072.4,725.0 1074.1,727.6C1075.5,729.7 1076.8,735.0 1078.2,737.7C1079.6,740.4 1080.9,744.4 1082.3,744.4C1086.7,744.4 1091.1,744.4 1095.5,744.4C1097.5,744.4 1099.6,736.7 1101.6,736.7C1103.3,736.7 1104.9,738.3 1106.6,739.8C1108.0,741.0 1109.3,745.9 1110.7,745.9C1113.4,745.9 1116.1,745.9 1118.8,745.9C1120.8,745.9 1122.9,739.5 1124.9,736.7C1127.3,733.4 1129.6,729.1 1132.0,727.6C1134.0,726.3 1136.1,724.9 1138.1,724.9C1140.8,724.9 1143.6,724.9 1146.3,724.9C1147.6,724.9 1149.0,722.5 1150.3,722.5C1206.5,722.5 1262.7,722.5 1318.9,722.5C1320.3,722.5 1321.6,724.9 1323.0,724.9C1326.0,724.9 1329.1,723.5 1332.1,723.5C1334.1,723.5 1336.2,727.0 1338.2,727.0C1340.2,727.0 1342.3,726.9 1344.3,726.6C1346.0,726.4 1347.7,722.6 1349.4,722.5C1356.8,722.2 1364.3,722.4 1371.7,722.1C1373.1,722.0 1374.4,720.1 1375.8,720.1C1377.8,720.1 1379.9,722.1 1381.9,722.1C1388.7,722.1 1395.4,722.1 1402.2,722.1C1404.2,722.1 1406.3,726.6 1408.3,726.6C1411.0,726.6 1413.7,726.2 1416.4,726.2C1418.8,726.2 1421.1,730.6 1423.5,730.6C1425.7,730.6 1427.8,723.8 1430.0,722.5C1432.0,721.3 1434.0,720.2 1436.0,720.0C1437.3,719.9 1438.7,719.8 1440.0,719.8C1442.5,719.8 1444.9,720.6 1447.4,721.8C1449.1,722.6 1450.7,727.6 1452.4,732.2C1453.9,736.2 1455.3,744.1 1456.8,749.5C1458.2,754.7 1459.6,759.0 1461.0,764.3C1462.2,768.9 1463.5,777.3 1464.7,779.2C1466.0,781.2 1467.2,782.9 1468.5,782.9C1470.5,782.9 1472.6,781.8 1474.6,780.4C1476.3,779.3 1477.9,773.9 1479.6,771.8C1480.8,770.2 1482.1,768.0 1483.3,768.0C1484.9,768.0 1486.6,770.4 1488.2,774.2C1489.0,776.1 1489.9,786.2 1490.7,791.5C1491.5,796.8 1492.4,805.7 1493.2,806.4C1495.3,808.2 1497.3,807.7 1499.4,808.9C1501.5,810.1 1503.5,812.9 1505.6,816.3C1507.2,819.0 1508.9,826.6 1510.5,828.7C1513.0,831.9 1515.4,830.5 1517.9,834.8C1518.7,836.3 1519.6,848.5 1520.4,858.3C1521.2,868.1 1522.1,884.7 1522.9,897.9C1523.7,911.1 1524.6,924.1 1525.4,937.5C1526.2,950.4 1527.0,970.2 1527.8,976.6C1528.5,982.0 1529.1,987.5 1529.8,987.5C1530.5,987.5 1531.3,981.1 1532.0,975.2C1532.8,968.5 1533.7,948.1 1534.5,937.5C1535.6,924.0 1536.6,913.6 1537.7,902.9C1538.8,892.2 1539.8,882.5 1540.9,873.2C1541.9,864.5 1542.9,851.2 1543.9,848.5C1545.6,844.0 1547.2,843.0 1548.9,841.0C1551.0,838.5 1553.0,838.6 1555.1,834.8C1556.2,832.8 1557.2,822.7 1558.3,816.3C1559.1,811.5 1559.9,803.1 1560.7,801.4C1561.7,799.3 1562.7,797.7 1563.7,797.7C1564.7,797.7 1565.7,801.2 1566.7,806.4C1567.4,809.8 1568.0,828.4 1568.7,838.6C1569.5,850.8 1570.3,861.5 1571.1,873.2C1571.9,885.4 1572.8,897.9 1573.6,910.3C1574.4,922.7 1575.3,940.3 1576.1,947.4C1576.9,954.5 1577.8,962.3 1578.6,962.3C1579.4,962.3 1580.2,957.3 1581.0,952.4C1581.8,947.3 1582.7,931.7 1583.5,922.7C1584.3,913.7 1585.2,906.2 1586.0,897.9C1587.2,885.6 1588.5,873.2 1589.7,860.8C1590.9,848.4 1592.2,835.2 1593.4,823.7C1594.6,812.2 1595.9,801.7 1597.1,791.5C1597.9,784.6 1598.8,775.1 1599.6,771.8C1601.7,763.6 1603.7,762.1 1605.8,756.9C1607.4,752.8 1609.1,744.0 1610.7,744.0C1612.2,744.0 1613.7,745.9 1615.2,749.5C1616.0,751.4 1616.8,766.8 1617.6,774.2C1618.4,781.9 1619.3,792.7 1620.1,795.3C1621.1,798.4 1622.1,800.9 1623.1,800.9C1624.1,800.9 1625.1,796.7 1626.1,791.5C1626.7,788.2 1627.4,772.4 1628.0,769.3C1629.5,762.0 1631.0,756.9 1632.5,756.9C1634.3,756.9 1636.1,759.2 1637.9,760.6C1639.6,761.9 1641.2,764.8 1642.9,764.8C1643.9,764.8 1644.9,754.4 1645.9,749.5C1647.0,744.3 1648.0,737.7 1649.1,734.6C1650.7,729.9 1652.4,725.3 1654.0,724.7C1656.1,723.9 1658.1,723.5 1660.2,723.5C1661.6,723.5 1663.1,724.8 1664.5,727.2C1665.3,728.6 1666.1,741.1 1666.9,747.0C1667.9,754.4 1668.9,758.5 1669.9,766.8C1670.7,773.7 1671.6,784.3 1672.4,794.0C1673.2,803.3 1674.0,814.9 1674.8,823.7C1675.6,832.9 1676.5,840.3 1677.3,848.5C1678.0,855.1 1678.6,865.7 1679.3,868.2C1680.5,872.6 1681.6,875.7 1682.8,875.7C1683.9,875.7 1684.9,870.4 1686.0,865.8C1686.8,862.2 1687.7,850.4 1688.5,848.5C1689.9,845.2 1691.3,843.0 1692.7,843.0C1693.8,843.0 1694.8,846.7 1695.9,850.9C1696.7,854.2 1697.6,867.1 1698.4,873.2C1699.2,879.0 1700.0,885.4 1700.8,888.0C1702.2,892.5 1703.6,896.7 1705.0,896.7C1706.5,896.7 1708.0,892.7 1709.5,888.0C1710.5,884.9 1711.5,876.3 1712.5,868.2C1713.3,861.7 1714.1,851.3 1714.9,843.5C1716.0,833.1 1717.0,822.0 1718.1,813.8C1719.4,804.1 1720.6,797.0 1721.9,789.1C1723.1,781.4 1724.4,772.4 1725.6,766.8C1727.2,759.4 1728.9,754.3 1730.5,749.5C1732.2,744.6 1733.8,740.7 1735.5,737.1C1737.4,732.9 1739.3,727.7 1741.2,726.0C1742.6,724.8 1744.0,723.5 1745.4,723.5C1746.8,723.5 1748.2,727.6 1749.6,732.2C1750.7,735.7 1751.7,748.4 1752.8,754.4C1754.0,761.3 1755.3,767.2 1756.5,771.8C1757.6,775.7 1758.6,776.4 1759.7,781.6C1760.4,785.2 1761.2,795.9 1761.9,803.9C1762.7,813.0 1763.6,822.9 1764.4,833.6C1765.2,844.3 1766.1,861.9 1766.9,868.2C1768.0,876.2 1769.0,884.3 1770.1,884.3C1770.9,884.3 1771.8,878.8 1772.6,873.2C1773.4,867.6 1774.3,852.5 1775.1,838.6C1775.7,829.1 1776.2,813.7 1776.8,803.9C1777.5,792.4 1778.1,778.4 1778.8,774.2C1779.8,768.1 1780.7,763.8 1781.7,763.1C1783.2,762.0 1784.7,761.4 1786.2,761.4C1787.8,761.4 1789.5,762.6 1791.1,764.8C1791.9,765.9 1792.8,772.2 1793.6,779.2C1794.3,784.8 1794.9,796.7 1795.6,808.9C1796.2,819.2 1796.7,837.7 1797.3,848.5C1798.1,864.4 1799.0,880.7 1799.8,888.0C1800.5,893.8 1801.1,900.4 1801.8,900.4C1802.8,900.4 1803.7,894.6 1804.7,888.0C1805.5,882.3 1806.4,865.9 1807.2,848.5C1807.8,836.7 1808.3,813.6 1808.9,799.0C1809.4,786.1 1809.9,770.5 1810.4,764.3C1811.2,754.0 1812.1,747.2 1812.9,744.5C1814.7,738.7 1816.5,736.4 1818.3,734.6C1820.8,732.1 1823.3,731.3 1825.8,729.7C1828.7,727.8 1831.5,724.2 1834.4,724.2C1836.9,724.2 1839.4,725.4 1841.9,726.7C1843.9,727.8 1846.0,731.3 1848.0,733.4C1849.7,735.1 1851.3,738.4 1853.0,738.4C1855.1,738.4 1857.1,735.1 1859.2,735.1C1862.1,735.1 1864.9,736.8 1867.8,738.4C1869.5,739.4 1871.1,740.8 1872.8,743.3C1873.8,744.8 1874.7,751.5 1875.7,751.5C1877.6,751.5 1879.5,751.5 1881.4,751.5C1882.6,751.5 1883.9,737.9 1885.1,735.0C1886.9,730.8 1888.7,727.8 1890.5,726.9C1893.6,725.3 1896.8,724.2 1899.9,724.2C1902.0,724.2 1904.0,726.6 1906.1,729.6C1907.6,731.8 1909.2,741.3 1910.7,745.8C1912.5,751.0 1914.2,756.2 1916.0,759.2C1917.8,762.2 1919.6,766.0 1921.4,766.0C1923.7,766.0 1925.9,766.0 1928.2,766.0C1929.5,766.0 1930.9,759.7 1932.2,753.9C1933.1,750.0 1934.0,737.5 1934.9,735.0C1936.2,731.2 1937.6,728.3 1938.9,728.3C1940.7,728.3 1942.5,730.4 1944.3,732.3C1946.6,734.6 1948.8,737.2 1951.1,744.4C1952.0,747.2 1952.8,756.3 1953.7,764.6C1954.4,771.6 1955.2,783.0 1955.9,791.6C1956.7,801.0 1957.5,810.5 1958.3,818.5C1959.2,827.5 1960.1,838.1 1961.0,842.7C1961.7,846.5 1962.5,850.8 1963.2,850.8C1964.1,850.8 1965.0,845.6 1965.9,840.0C1966.6,835.6 1967.3,824.9 1968.0,813.1C1968.5,805.3 1968.9,790.0 1969.4,780.8C1970.0,768.3 1970.7,753.0 1971.3,748.5C1972.4,740.9 1973.4,735.0 1974.5,735.0C1975.7,735.0 1976.8,740.0 1978.0,745.8C1978.9,750.2 1979.8,765.3 1980.7,775.4C1981.4,783.3 1982.1,796.0 1982.8,799.6C1983.6,803.9 1984.5,807.7 1985.3,807.7C1986.2,807.7 1987.1,804.2 1988.0,799.6C1988.7,796.0 1989.4,779.6 1990.1,770.0C1990.8,759.9 1991.6,743.0 1992.3,740.4C1993.2,737.2 1994.1,735.0 1995.0,735.0C1996.1,735.0 1997.1,738.5 1998.2,743.1C1998.9,746.1 1999.6,760.6 2000.3,767.3C2001.2,775.9 2002.1,784.9 2003.0,788.9C2004.5,795.7 2006.1,797.7 2007.6,802.3C2008.9,806.3 2010.3,813.4 2011.6,814.4C2012.7,815.2 2013.8,815.8 2014.9,815.8C2015.8,815.8 2016.7,808.7 2017.6,802.3C2018.3,797.3 2019.0,782.3 2019.7,778.1C2020.6,772.6 2021.5,767.3 2022.4,767.3C2023.5,767.3 2024.5,769.4 2025.6,772.7C2026.3,774.9 2027.1,783.8 2027.8,796.9C2028.3,805.2 2028.7,835.0 2029.2,850.8C2029.8,871.1 2030.4,886.9 2031.0,904.7C2031.7,926.5 2032.5,949.2 2033.2,969.3C2033.9,988.4 2034.6,1008.1 2035.3,1023.1C2035.9,1036.7 2036.6,1058.2 2037.2,1058.2C2037.9,1058.2 2038.7,1038.2 2039.4,1023.1C2040.0,1010.1 2040.7,987.2 2041.3,969.3C2041.9,951.4 2042.6,937.0 2043.2,915.4C2043.6,900.6 2044.1,884.2 2044.5,861.6C2044.8,847.7 2045.0,815.5 2045.3,807.7C2045.8,794.1 2046.2,785.7 2046.7,783.5C2047.4,780.2 2048.1,778.1 2048.8,778.1C2049.7,778.1 2050.6,788.0 2051.5,791.6C2052.6,795.9 2053.6,802.3 2054.7,802.3C2055.8,802.3 2056.9,801.2 2058.0,799.6C2059.2,798.0 2060.3,786.2 2061.5,780.8C2062.8,774.6 2064.2,769.8 2065.5,764.6C2066.8,759.4 2068.2,753.0 2069.5,749.8C2071.3,745.5 2073.1,740.4 2074.9,740.4C2076.7,740.4 2078.5,747.4 2080.3,749.8C2082.5,752.8 2084.8,754.6 2087.0,757.0" stroke="#00f" stroke-width="7.7"/>
</g>
<g id="annot">
<ellipse cx="1527.2" cy="574" rx="26" ry="482.5" fill="none" stroke="#ffe000" stroke-width="6.3"/>
<line x1="1298.5" y1="1026.5" x2="1502.5" y2="936" stroke="#ffe000" stroke-width="5.8"/>
<line x1="1329.5" y1="253.8" x2="1469" y2="206.3" stroke="#000" stroke-width="4.4"/>
</g>
<g class="sans" font-size="73" fill="#000"><text x="459.9" y="1235" text-anchor="middle">3500</text><text x="746.5" y="1235" text-anchor="middle">3000</text><text x="1035.5" y="1235" text-anchor="middle">2500</text><text x="1307.6" y="1235" text-anchor="middle">2000</text><text x="1598" y="1235" text-anchor="middle">1500</text><text x="1887.5" y="1235" text-anchor="middle">1000</text></g>
<g id="nofoot" fill="#fff"><rect x="1519" y="1227.6" width="14.7" height="11"/><rect x="1542.5" y="1227.6" width="16" height="11"/><rect x="1809" y="1227.6" width="14.7" height="11"/><rect x="1832.5" y="1227.6" width="16" height="11"/></g>
<g class="sans" fill="#000" stroke="#000" stroke-width="1.5" stroke-linejoin="round">
<text x="1205.5" y="295.6" font-size="52" letter-spacing="1">C=O</text>
<text x="1137.5" y="1056.4" font-size="53" letter-spacing="0.2">HC=N</text>
</g>
<g class="sans" font-size="78.5" font-style="italic" fill="#000" stroke="#000" stroke-width="3" stroke-linejoin="round" letter-spacing="3">
<text x="278.5" y="157.5" dx="0 0 0 0 0 0 4.5">PolySB1</text>
<g fill="#fff" stroke="none"><polygon points="555,149.3 574.2,149.3 572.9,161 555,161"/><polygon points="584.9,149.3 601,149.3 601,161 583.5,161"/></g>
<text x="270" y="517">PolySB2</text>
<text x="270" y="857">PolySB3</text>
</g>
<g class="serif" fill="#000" style="font-kerning:none">
<text x="765.5" y="1345" font-size="79" letter-spacing="3.0">Wavenumber <tspan x="1239.5" y="1345.6" font-size="53" letter-spacing="0" stroke="#000" stroke-width="1.3">(</tspan><tspan x="1256.5" y="1345" letter-spacing="3.4">cm</tspan><tspan x="1355.5" y="1303" font-size="51" letter-spacing="0" class="sans">-1</tspan><tspan x="1399" y="1345.6" font-size="53" letter-spacing="0" stroke="#000" stroke-width="1.3">)</tspan></text>
<g fill="#fff"><rect x="1373" y="1297.4" width="11.7" height="8"/><rect x="1390.3" y="1297.4" width="10" height="8"/></g>
<text transform="translate(86.3,592.6) rotate(-90)" text-anchor="middle" font-size="80" letter-spacing="3.0">Transmittance</text>
</g>
</g>
</svg>
</body></html>
